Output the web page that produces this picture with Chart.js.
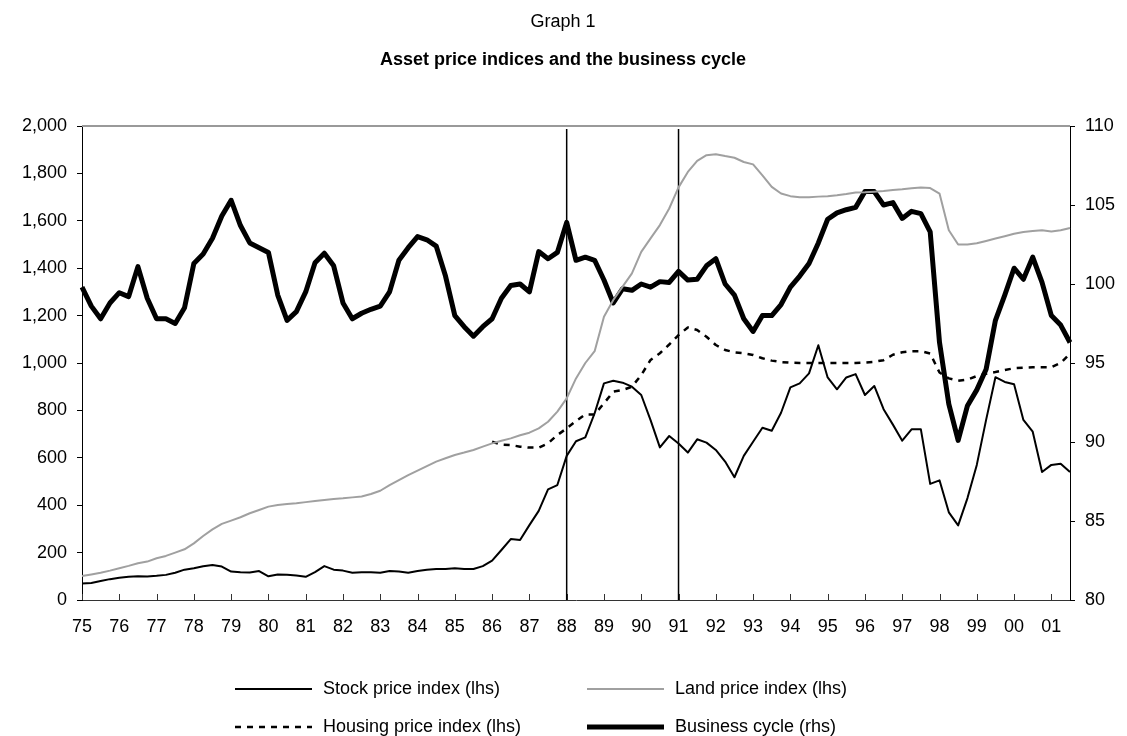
<!DOCTYPE html>
<html>
<head>
<meta charset="utf-8">
<script src="https://cdn.jsdelivr.net/npm/chart.js@4.4.1/dist/chart.umd.min.js"></script>
<style>
	html, body { margin: 0; padding: 0; background: #fff; }
	#wrap { width: 1127px; height: 736px; }
</style>
</head>
<body>
<div id="wrap"><canvas id="asset-cycle-graph" width="1127" height="736"></canvas></div>
<script>
// year tick labels, one per 4 quarters (75Q1 .. 01Q3)
const yearLabels = ["75", "76", "77", "78", "79", "80", "81", "82", "83", "84", "85", "86", "87",
	"88", "89", "90", "91", "92", "93", "94", "95", "96", "97", "98", "99", "00", "01"];
const quarterCount = 107;
const markerYears = ["88", "91"];

const stockPrice = [
	70, 72, 80, 88, 94, 98, 100, 99, 102, 106, 115, 128, 134, 142, 148, 141,
	120, 117, 116, 122, 100, 108, 107, 103, 98, 118, 143, 128, 124, 115, 117, 117,
	115, 122, 120, 115, 122, 128, 131, 131, 134, 131, 131, 143, 166, 211, 257, 253,
	316, 376, 467, 485, 608, 670, 686, 788, 914, 925, 917, 900, 865, 759, 644, 692,
	660, 622, 678, 664, 633, 584, 518, 608, 668, 727, 714, 790, 897, 914, 956, 1075,
	939, 889, 939, 953, 865, 903, 805, 740, 672, 720, 720, 490, 505, 370, 315, 430,
	570, 760, 940, 920, 910, 760, 710, 540, 570, 575, 540,
];

const landPrice = [
	101, 108, 115, 124, 134, 144, 155, 162, 176, 186, 200, 214, 239, 270, 298, 321,
	335, 349, 366, 380, 394, 401, 405, 408, 413, 418, 422, 426, 429, 433, 437, 447,
	461, 485, 506, 527, 546, 565, 584, 598, 612, 622, 633, 647, 661, 672, 682, 695,
	706, 724, 752, 795, 851, 935, 1000, 1050, 1195, 1266, 1322, 1378, 1469, 1526, 1582, 1652,
	1741, 1806, 1853, 1877, 1881, 1873, 1866, 1848, 1838, 1792, 1743, 1715, 1704, 1699, 1699, 1702,
	1704, 1708, 1713, 1719, 1720, 1723, 1726, 1730, 1733, 1737, 1740, 1738, 1715, 1560, 1500, 1500,
	1505, 1515, 1525, 1535, 1545, 1553, 1557, 1560, 1555, 1560, 1570,
];

// housing index starts in 86Q1
const housingPrice = [
	null, null, null, null, null, null, null, null, null, null, null, null, null, null, null, null,
	null, null, null, null, null, null, null, null, null, null, null, null, null, null, null, null,
	null, null, null, null, null, null, null, null, null, null, null, null, 668, 656, 654, 647,
	643, 643, 661, 696, 724, 755, 783, 783, 830, 879, 886, 900, 949, 1013, 1041, 1078,
	1118, 1150, 1139, 1111, 1076, 1055, 1045, 1041, 1034, 1020, 1010, 1004, 1001, 1000, 1000, 1000,
	1000, 1000, 1000, 1000, 1002, 1005, 1012, 1035, 1045, 1050, 1050, 1040, 960, 935, 925, 930,
	945, 955, 962, 970, 978, 980, 982, 982, 982, 1000, 1040,
];

const businessCycle = [
	99.8, 98.6, 97.8, 98.8, 99.45, 99.2, 101.1, 99.1, 97.8, 97.8, 97.5, 98.5, 101.3, 101.9, 102.9, 104.3,
	105.3, 103.7, 102.6, 102.3, 102.0, 99.3, 97.7, 98.25, 99.5, 101.35, 101.95, 101.15, 98.8, 97.8, 98.15, 98.4,
	98.6, 99.5, 101.5, 102.3, 103.0, 102.8, 102.4, 100.5, 98.0, 97.3, 96.7, 97.3, 97.8, 99.1, 99.9, 100.0,
	99.5, 102.05, 101.6, 102.0, 103.9, 101.5, 101.7, 101.5, 100.25, 98.8, 99.7, 99.6, 100.0, 99.8, 100.15, 100.1,
	100.8, 100.25, 100.3, 101.15, 101.6, 100.0, 99.3, 97.8, 97.0, 98.0, 98.0, 98.7, 99.8, 100.5, 101.3, 102.6,
	104.1, 104.5, 104.7, 104.85, 105.85, 105.85, 105.0, 105.15, 104.15, 104.6, 104.45, 103.3, 96.3, 92.4, 90.1, 92.3,
	93.3, 94.6, 97.7, 99.3, 101.0, 100.3, 101.7, 100.1, 98.0, 97.4, 96.3,
];

const quarters = [];
for (let i = 0; i < quarterCount; i++) {
	quarters.push(yearLabels[Math.floor(i / 4)] + "Q" + ((i % 4) + 1));
}

const FONT = "'Liberation Sans', Arial, sans-serif";

const legendItems = [
	{ label: "Stock price index (lhs)", color: "#000", width: 2, dash: [], x: 235, y: 689 },
	{ label: "Land price index (lhs)", color: "#a0a0a0", width: 2, dash: [], x: 587, y: 689 },
	{ label: "Housing price index (lhs)", color: "#000", width: 2.5, dash: [6, 6], x: 235, y: 727 },
	{ label: "Business cycle (rhs)", color: "#000", width: 5, dash: [], x: 587, y: 727 },
];

const decorPlugin = {
	id: "decor",
	beforeDatasetsDraw(chart) {
		const { ctx, chartArea } = chart;
		const xScale = chart.scales.x;
		ctx.save();
		// gray plot border on top
		ctx.strokeStyle = "#999";
		ctx.lineWidth = 2;
		ctx.beginPath();
		ctx.moveTo(chartArea.left, chartArea.top);
		ctx.lineTo(chartArea.right, chartArea.top);
		ctx.stroke();

		// year ticks pointing up from the x axis
		ctx.strokeStyle = "#333";
		ctx.lineWidth = 1;
		for (let i = 0; i < yearLabels.length; i++) {
			const x = Math.round(xScale.getPixelForValue(i * 4)) + 0.5;
			ctx.beginPath();
			ctx.moveTo(x, chartArea.bottom);
			ctx.lineTo(x, chartArea.bottom - 6);
			ctx.stroke();
		}

		// vertical marker lines
		ctx.strokeStyle = "#000";
		ctx.lineWidth = 1.5;
		markerYears.forEach((year) => {
			const x = xScale.getPixelForValue(yearLabels.indexOf(year) * 4);
			ctx.beginPath();
			ctx.moveTo(x, chartArea.top + 3);
			ctx.lineTo(x, chartArea.bottom);
			ctx.stroke();
		});
		ctx.restore();
	},
	afterDraw(chart) {
		const { ctx } = chart;
		ctx.save();
		ctx.fillStyle = "#000";
		ctx.textAlign = "center";
		ctx.textBaseline = "middle";
		ctx.font = "18px " + FONT;
		ctx.fillText("Graph 1", 563, 22);
		ctx.font = "bold 18px " + FONT;
		ctx.fillText("Asset price indices and the business cycle", 563, 60);

		ctx.textAlign = "left";
		ctx.font = "18px " + FONT;
		legendItems.forEach((item) => {
			ctx.strokeStyle = item.color;
			ctx.lineWidth = item.width;
			ctx.setLineDash(item.dash);
			ctx.beginPath();
			ctx.moveTo(item.x, item.y);
			ctx.lineTo(item.x + 77, item.y);
			ctx.stroke();
			ctx.setLineDash([]);
			ctx.fillText(item.label, item.x + 88, item.y);
		});
		ctx.restore();
	},
};

new Chart(document.getElementById("asset-cycle-graph"), {
	type: "line",
	data: {
		labels: quarters,
		datasets: [
			{
				label: "Land price index (lhs)",
				data: landPrice,
				borderColor: "#a0a0a0",
				borderWidth: 2,
				yAxisID: "y",
			},
			{
				label: "Housing price index (lhs)",
				data: housingPrice,
				borderColor: "#000",
				borderWidth: 2.5,
				borderDash: [6, 6],
				yAxisID: "y",
			},
			{
				label: "Stock price index (lhs)",
				data: stockPrice,
				borderColor: "#000",
				borderWidth: 2,
				yAxisID: "y",
			},
			{
				label: "Business cycle (rhs)",
				data: businessCycle,
				borderColor: "#000",
				borderWidth: 5,
				yAxisID: "y1",
			},
		],
	},
	options: {
		responsive: false,
		animation: false,
		devicePixelRatio: 1,
		elements: {
			point: { radius: 0 },
			line: { tension: 0, borderJoinStyle: "round", fill: false },
		},
		layout: {
			padding: { top: 126, bottom: 86, left: 0, right: 0 },
		},
		plugins: {
			legend: { display: false },
			tooltip: { enabled: false },
		},
		scales: {
			x: {
				type: "category",
				offset: false,
				grid: { display: false, drawTicks: false },
				border: { color: "#333", width: 1 },
				ticks: {
					autoSkip: false,
					maxRotation: 0,
					padding: 16,
					color: "#000",
					font: { family: FONT, size: 18 },
					callback: (value, index) => (index % 4 === 0 ? yearLabels[index / 4] : ""),
				},
				afterFit(scale) {
					scale.height = 50;
					scale.paddingLeft = 0;
					scale.paddingRight = 0;
				},
			},
			y: {
				position: "left",
				min: 0,
				max: 2000,
				grid: { drawOnChartArea: false, tickLength: 5, color: "#000" },
				border: { color: "#000", width: 1 },
				ticks: {
					stepSize: 200,
					padding: 10,
					color: "#000",
					font: { family: FONT, size: 18 },
					callback: (value) => value.toLocaleString("en-US"),
				},
				afterFit(scale) {
					scale.width = 82;
					scale.paddingTop = 0;
					scale.paddingBottom = 0;
				},
			},
			y1: {
				position: "right",
				min: 80,
				max: 110,
				grid: { drawOnChartArea: false, tickLength: 5, color: "#000" },
				border: { color: "#000", width: 1 },
				ticks: {
					stepSize: 5,
					padding: 10,
					color: "#000",
					font: { family: FONT, size: 18 },
				},
				afterFit(scale) {
					scale.width = 57;
					scale.paddingTop = 0;
					scale.paddingBottom = 0;
				},
			},
		},
	},
	plugins: [decorPlugin],
});
</script>
</body>
</html>
